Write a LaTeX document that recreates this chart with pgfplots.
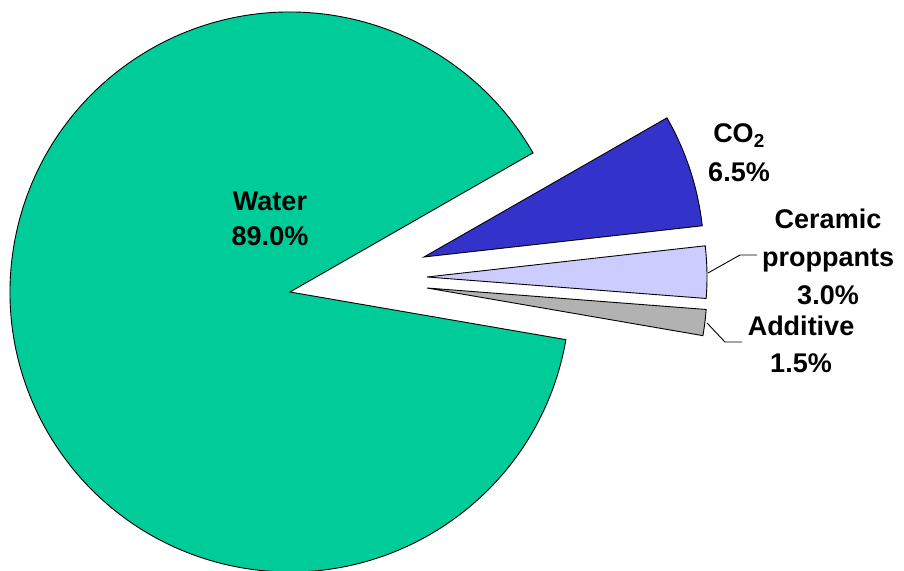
\documentclass[border=0pt]{standalone}
\usepackage{pgfplots}
\pgfplotsset{compat=1.18}
\usepackage{fontspec}
\setmainfont{Liberation Sans}
\definecolor{cWater}{HTML}{00CC99}
\definecolor{cCO}{HTML}{3333CC}
\definecolor{cCer}{HTML}{CCCCFF}
\definecolor{cAdd}{HTML}{B2B2B2}
\begin{document}
\begin{tikzpicture}
% slice shares (%)
\def\vW{89.0}\def\vC{6.5}\def\vP{3.0}\def\vA{1.5}
\def\aStart{-9.8}
\def\R{280pt}
\pgfmathsetmacro\aW{\aStart-3.6*\vW}
\pgfmathsetmacro\aC{\aW-3.6*\vC}
\pgfmathsetmacro\aP{\aC-3.6*\vP}
\pgfmathsetmacro\aA{\aP-3.6*\vA}
\begin{axis}[x=1pt,y=1pt,xmin=0,xmax=904,ymin=0,ymax=570,hide axis,clip=true]
\coordinate (LL) at (rel axis cs:0,0);
\coordinate (UR) at (rel axis cs:1,1);
\filldraw[fill=cWater,draw=black,line width=0.9pt,line join=miter]
  (axis cs:290,278) -- ++(\aStart:\R) arc[start angle=\aStart,end angle=\aW,radius=\R] -- cycle;
\filldraw[fill=cCO,draw=black,line width=0.9pt,line join=miter]
  (axis cs:424,313) -- ++(\aW:\R) arc[start angle=\aW,end angle=\aC,radius=\R] -- cycle;
\filldraw[fill=cCer,draw=black,line width=0.9pt,line join=miter]
  (axis cs:427,293) -- ++(\aC:\R) arc[start angle=\aC,end angle=\aP,radius=\R] -- cycle;
\filldraw[fill=cAdd,draw=black,line width=0.9pt,line join=miter]
  (axis cs:427,282) -- ++(\aP:\R) arc[start angle=\aP,end angle=\aA,radius=\R] -- cycle;
% leader lines
\draw[black,line width=0.9pt] (axis cs:708,297) -- (axis cs:740,315) -- (axis cs:757,315);
\draw[black,line width=0.9pt] (axis cs:707,247) -- (axis cs:725,228) -- (axis cs:742,228);
% labels
\node[font=\bfseries\fontsize{27}{35}\selectfont,align=center] at (axis cs:270,351) {Water\\89.0\%};
\node[font=\bfseries\fontsize{27}{39}\selectfont,align=center] at (axis cs:739,417) {CO\textsubscript{2}\\6.5\%};
\node[font=\bfseries\fontsize{27}{38}\selectfont,align=center] at (axis cs:828,313) {Ceramic\\proppants\\3.0\%};
\node[font=\bfseries\fontsize{27}{37}\selectfont,align=center] at (axis cs:801,226) {Additive\\1.5\%};
\end{axis}
\pgfresetboundingbox
\useasboundingbox (LL) rectangle (UR);
\end{tikzpicture}
\end{document}
